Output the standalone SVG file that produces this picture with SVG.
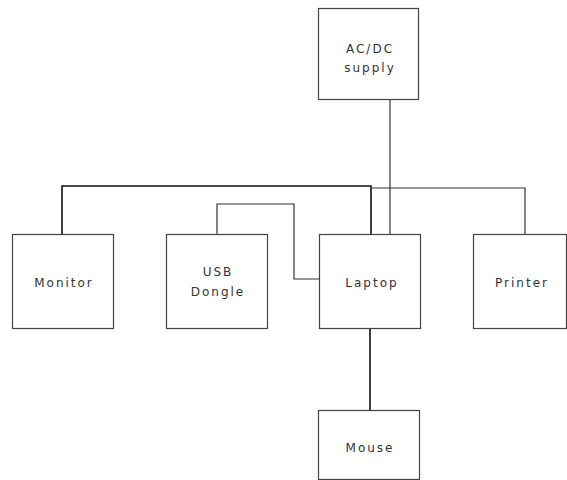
<svg xmlns="http://www.w3.org/2000/svg" width="567" height="480" viewBox="0 0 567 480">
<style>
.box{fill:#fff;stroke:#444;stroke-width:1.2}
.t{font-family:"DejaVu Sans",sans-serif;font-size:12px;fill:#333;text-anchor:middle;letter-spacing:2px}
.c{fill:none;stroke:#111;stroke-width:1.6}
.c2{fill:none;stroke:#333;stroke-width:1.2}
</style>
<rect width="567" height="480" fill="#fff"/>
<g id="connectors">
<polyline class="c" points="62,234 62,186 371,186 371,234"/>
<polyline class="c2" points="371,188 525,188 525,234"/>
<line class="c2" x1="390" y1="99" x2="390" y2="234"/>
<polyline class="c2" points="217,234 217,204 294,204 294,279 319,279"/>
<line class="c" x1="370" y1="328" x2="370" y2="410"/>
</g>
<g id="acdc"><rect class="box" x="318.5" y="8.5" width="100" height="91"/><text class="t" x="370" y="53">AC/DC</text><text class="t" x="370" y="72">supply</text></g>
<g id="monitor"><rect class="box" x="12.5" y="234.5" width="101" height="94"/><text class="t" x="64" y="287">Monitor</text></g>
<g id="usb"><rect class="box" x="166.5" y="234.5" width="101" height="94"/><text class="t" x="218" y="276">USB</text><text class="t" x="218" y="296">Dongle</text></g>
<g id="laptop"><rect class="box" x="319.5" y="234.5" width="101" height="94"/><text class="t" x="372" y="287">Laptop</text></g>
<g id="printer"><rect class="box" x="473.5" y="234.5" width="93" height="94"/><text class="t" x="522" y="287">Printer</text></g>
<g id="mouse"><rect class="box" x="318.5" y="410.5" width="101" height="69"/><text class="t" x="370" y="452">Mouse</text></g>
</svg>
